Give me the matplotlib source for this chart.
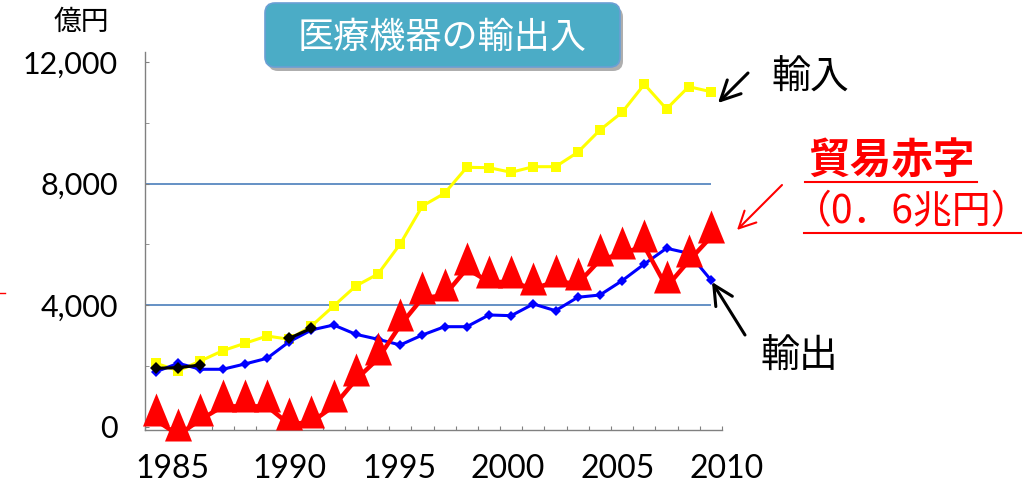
import numpy as np
import matplotlib
matplotlib.use('Agg')
import matplotlib.pyplot as plt
from matplotlib.patches import FancyBboxPatch, FancyArrowPatch
from matplotlib.transforms import Affine2D, blended_transform_factory
from matplotlib.path import Path
from matplotlib.lines import Line2D

# ---------------- data ----------------
years = list(range(1985, 2011))
imports = [2094, 1851, 2170, 2508, 2751, 2991, 2883, 3320, 3978, 4635, 5030, 6016, 7265,
           7682, 8537, 8524, 8373, 8557, 8557, 9030, 9763, 10345, 11266, 10454, 11187, 11022]
exports = [1818, 2094, 1897, 1897, 2071, 2258, 2804, 3189, 3353, 3047, 2883, 2696, 3024,
           3297, 3297, 3682, 3659, 4043, 3823, 4264, 4339, 4809, 5358, 5875, 5710, 4832]
overlay = [1930, 1950, 2038, None, None, None, 2916, 3245, None, None, None, None, None,
           None, None, None, None, None, None, None, None, None, None, None, None, None]
deficit = [220, -260, 240, 680, 680, 680, 89, 164, 680, 1555, 2245, 3343, 4240,
           4329, 5204, 4767, 4767, 4546, 4783, 4711, 5490, 5710, 5940, 4602, 5457, 6246]
y_ticks = [0, 4000, 8000, 12000]
y_tick_labels = ['0', '4,000', '8,000', '12,000']
y_minor_ticks = [2000, 6000, 10000]
grid_values = [4000, 8000]
x_labels = ['1985', '1990', '1995', '2000', '2005', '2010']
x_label_pos = [1985.74, 1990.99, 1995.95, 2000.84, 2005.79, 2010.71]
title = '医療機器の輸出入'
unit = '億円'
label_import = '輸入'
label_export = '輸出'
label_deficit1 = '貿易赤字'
label_deficit2 = '（0．6兆円）'

plt.rcParams['font.family'] = ['Lato', 'Noto Sans CJK JP', 'DejaVu Sans']
CJK = ['Noto Sans CJK JP', 'DejaVu Sans']

W, H = 1032, 483
fig = plt.figure(figsize=(W / 100, H / 100), dpi=100)
px = Affine2D().scale(1 / 100) + fig.dpi_scale_trans  # pixel coords (origin bottom-left)

ax = fig.add_axes([145 / W, 1 - 430 / H, 577 / W, 378 / H])
ax.set_xlim(1984.5, 2010.5)
ax.set_ylim(-99, 12327)

ax.hlines(grid_values, 1984.5, 2010.0, color='#4A7EBB', lw=1.2, zorder=1)

ax.plot(years, imports, color='#FFFF00', lw=2.2, marker='s', ms=7, mew=0, zorder=3)
ax.plot(years, exports, color='#0000FF', lw=2.2, marker='D', ms=5, mew=0, zorder=4)
ax.plot(years, np.array(overlay, dtype=float), color='black', lw=2.2, marker='D', ms=6,
        mew=0, zorder=5)

tri = Path([(0, 27), (-13.5, -6), (13.5, -6), (0, 27)],
           [Path.MOVETO, Path.LINETO, Path.LINETO, Path.CLOSEPOLY])
ax.plot(years, deficit, color='#FF0000', lw=3.2, marker=tri, ms=38.9, mew=0,
        zorder=6, clip_on=False)

for s in ['top', 'right']:
    ax.spines[s].set_visible(False)
for s in ['left', 'bottom']:
    ax.spines[s].set_color('#808080')
    ax.spines[s].set_linewidth(1.0)

ax.set_yticks(y_ticks)
ax.set_yticklabels(y_tick_labels, fontsize=22)
ax.set_yticks(y_minor_ticks, minor=True)
ax.tick_params(axis='y', which='both', direction='in', length=3, pad=19.5,
               color='#808080')
ax.set_xticks(np.arange(1984.5, 2010.6, 1.0))
ax.set_xticklabels([])
ax.tick_params(axis='x', direction='in', length=3, color='#808080')

tx = blended_transform_factory(ax.transData, px)
for pos, lab in zip(x_label_pos, x_labels):
    ax.text(pos, H - 478, lab, transform=tx, ha='center', va='baseline',
            fontsize=23, clip_on=False)

# title box
shadow = FancyBboxPatch((268, H - 71), 355, 64, boxstyle='round,pad=0,rounding_size=10',
                        transform=px, facecolor='#9a9a9a', edgecolor='none', alpha=0.8)
box = FancyBboxPatch((265, H - 67), 355, 64, boxstyle='round,pad=0,rounding_size=10',
                     transform=px, facecolor='#4BACC6', edgecolor='#6A9FD4', lw=1.2)
fig.add_artist(shadow)
fig.add_artist(box)
fig.text(442, H - 37.5, title, transform=px, ha='center', va='center', color='white',
         fontsize=26, family=CJK)

fig.text(81, H - 22, unit, transform=px, ha='center', va='center', fontsize=20, family=CJK)

# annotations
fig.text(810, H - 77.5, label_import, transform=px, ha='center', va='center',
         fontsize=28, family=CJK)
fig.text(799, H - 356.5, label_export, transform=px, ha='center', va='center',
         fontsize=28, family=CJK)
fig.text(892, H - 161.5, label_deficit1, transform=px, ha='center', va='center',
         fontsize=30, family=CJK, color='#FF0000', fontweight='bold')
fig.text(912, H - 212.5, label_deficit2, transform=px, ha='center', va='center',
         fontsize=28, family=CJK, color='#FF0000')
fig.add_artist(Line2D([805, 977], [H - 182, H - 182], transform=px, color='#FF0000', lw=1.5))
fig.add_artist(Line2D([804, 1021], [H - 233, H - 233], transform=px, color='#FF0000', lw=1.5))
fig.add_artist(Line2D([0, 5], [H - 293, H - 293], transform=px, color='#FF0000', lw=1.0))

def arrow(p0, p1, color, lw, hl, hw):
    a = FancyArrowPatch((p0[0], H - p0[1]), (p1[0], H - p1[1]), transform=px,
                        arrowstyle=f'->,head_length={hl},head_width={hw}',
                        mutation_scale=20, color=color, lw=lw, shrinkA=0, shrinkB=0)
    fig.add_artist(a)

arrow((748, 73), (718, 103), 'black', 2.2, 0.7, 0.35)
arrow((782, 185), (737, 230), '#FF0000', 1.5, 0.6, 0.3)
arrow((745, 335), (712, 282), 'black', 2.2, 0.7, 0.35)

fig.savefig('out.png', dpi=100)
